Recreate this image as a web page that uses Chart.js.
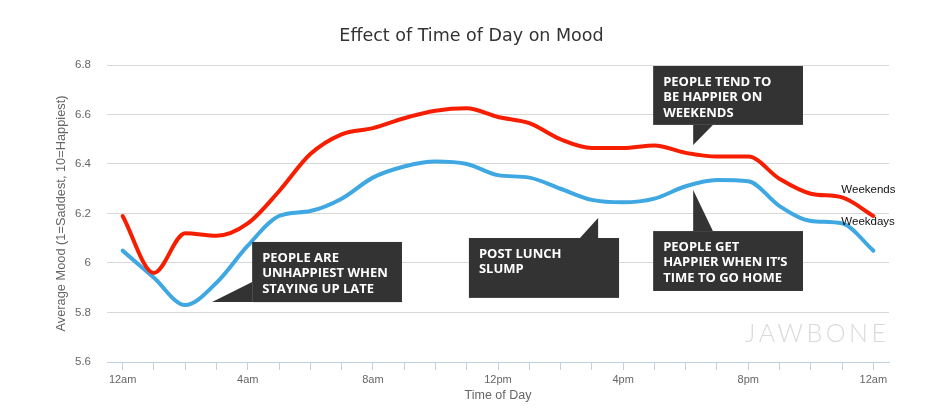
<!DOCTYPE html>
<html>
<head>
<meta charset="utf-8">
<script src="https://cdn.jsdelivr.net/npm/chart.js@4"></script>
<style>
  body { margin: 0; background: #fff; }
  #wrap { width: 943px; height: 417px; }
</style>
</head>
<body>
<div id="wrap"><canvas id="chart"></canvas></div>
<script>
const hours = ['12am', '1am', '2am', '3am', '4am', '5am', '6am', '7am', '8am', '9am', '10am', '11am',
  '12pm', '1pm', '2pm', '3pm', '4pm', '5pm', '6pm', '7pm', '8pm', '9pm', '10pm', '11pm', '12am'];

const weekends = [6.19, 5.96, 6.12, 6.11, 6.16, 6.29, 6.44, 6.52, 6.545, 6.585, 6.615, 6.625,
  6.59, 6.565, 6.50, 6.465, 6.465, 6.475, 6.445, 6.43, 6.43, 6.34, 6.28, 6.265, 6.19];

const weekdays = [6.05, 5.94, 5.83, 5.92, 6.07, 6.19, 6.21, 6.26, 6.345, 6.39, 6.41, 6.40,
  6.355, 6.345, 6.30, 6.255, 6.245, 6.26, 6.31, 6.335, 6.33, 6.23, 6.17, 6.16, 6.05];

const yTicks = [5.6, 5.8, 6.0, 6.2, 6.4, 6.6, 6.8];

// callout boxes, in chart units (hour index, mood)
const callouts = [
  { lines: ['PEOPLE ARE', 'UNHAPPIEST WHEN', 'STAYING UP LATE'],
    box: [4.14, 6.085, 8.93, 5.842], pointer: [[4.14, 5.923], [2.86, 5.842], [4.14, 5.842]] },
  { lines: ['POST LUNCH', 'SLUMP'],
    box: [11.07, 6.101, 15.87, 5.859], pointer: [[14.62, 6.101], [15.2, 6.182], [15.2, 6.101]] },
  { lines: ['PEOPLE TEND TO', 'BE HAPPIER ON', 'WEEKENDS'],
    box: [16.96, 6.796, 21.75, 6.558], pointer: [[18.24, 6.558], [18.24, 6.477], [18.87, 6.558]] },
  { lines: ['PEOPLE GET', 'HAPPIER WHEN IT\u2019S', 'TIME TO GO HOME'],
    box: [16.96, 6.129, 21.75, 5.887], pointer: [[18.24, 6.129], [18.24, 6.295], [18.87, 6.129]] }
];

const calloutPlugin = {
  id: 'callouts',
  afterDatasetsDraw(chart) {
    const { ctx, scales: { x, y } } = chart;
    ctx.save();
    callouts.forEach(c => {
      const x0 = x.getPixelForValue(c.box[0]), y0 = y.getPixelForValue(c.box[1]);
      const x1 = x.getPixelForValue(c.box[2]), y1 = y.getPixelForValue(c.box[3]);
      ctx.fillStyle = '#333333';
      ctx.fillRect(x0, y0, x1 - x0, y1 - y0);
      ctx.beginPath();
      c.pointer.forEach((p, i) => {
        const px = x.getPixelForValue(p[0]), py = y.getPixelForValue(p[1]);
        if (i === 0) ctx.moveTo(px, py); else ctx.lineTo(px, py);
      });
      ctx.closePath();
      ctx.fill();
      ctx.fillStyle = '#ffffff';
      ctx.font = 'bold 13px "Open Sans"';
      ctx.textBaseline = 'middle';
      ctx.textAlign = 'left';
      c.lines.forEach((t, i) => ctx.fillText(t, x0 + 10, y0 + 16 + i * 15.5));
    });

    // series names next to the line ends
    ctx.fillStyle = '#111';
    ctx.font = '11.5px "Liberation Sans"';
    ctx.textBaseline = 'middle';
    [['Weekends', 0, -26], ['Weekdays', 1, -29]].forEach(([name, di, dy]) => {
      const pts = chart.getDatasetMeta(di).data;
      const last = pts[pts.length - 1];
      ctx.fillText(name, last.x - 32, last.y + dy);
    });

    // watermark
    const area = chart.chartArea;
    ctx.fillStyle = '#dadada';
    ctx.font = '300 25px Lato';
    ctx.letterSpacing = '3.5px';
    ctx.textBaseline = 'alphabetic';
    ctx.fillText('JAWBONE', area.right - 144, area.bottom - 20);
    ctx.restore();
  }
};

new Chart(document.getElementById('chart'), {
  type: 'line',
  data: {
    labels: hours,
    datasets: [
      { label: 'Weekends', data: weekends, borderColor: '#f71e00', borderWidth: 4,
        pointRadius: 0, cubicInterpolationMode: 'monotone', borderCapStyle: 'round' },
      { label: 'Weekdays', data: weekdays, borderColor: '#3fa7e1', borderWidth: 4,
        pointRadius: 0, cubicInterpolationMode: 'monotone', borderCapStyle: 'round' }
    ]
  },
  options: {
    responsive: true,
    maintainAspectRatio: false,
    animation: false,
    layout: { padding: 0 },
    plugins: {
      legend: { display: false },
      tooltip: { enabled: false },
      title: {
        display: true,
        text: 'Effect of Time of Day on Mood',
        color: '#333',
        font: { family: 'DejaVu Sans', size: 17.5, weight: 'normal' },
        padding: { top: 26, bottom: 18 }
      }
    },
    scales: {
      x: {
        offset: true,
        grid: { display: true, drawOnChartArea: false, drawTicks: true, tickLength: 8,
          color: '#c0d0e0', offset: false },
        border: { display: true, color: '#c0d0e0' },
        ticks: {
          autoSkip: false, maxRotation: 0, padding: 3, color: '#666',
          font: { family: 'Liberation Sans', size: 11 },
          callback: (v, i) => (i % 4 === 0 ? hours[i] : '')
        },
        title: { display: true, text: 'Time of Day', color: '#666',
          font: { family: 'Liberation Sans', size: 12.5 }, padding: { top: 0, bottom: 14 } },
        afterFit: s => { s.height = 55; }
      },
      y: {
        min: yTicks[0],
        max: yTicks[yTicks.length - 1],
        afterBuildTicks: s => { s.ticks = yTicks.map(v => ({ value: v })); },
        grid: { color: '#d8d8d8', drawTicks: false },
        border: { display: false },
        ticks: { padding: 16, color: '#666', font: { family: 'Liberation Sans', size: 11.5 },
          callback: v => String(Number(v.toFixed(1))) },
        title: { display: true, text: 'Average Mood (1=Saddest, 10=Happiest)', color: '#666',
          font: { family: 'Liberation Sans', size: 12.8 }, padding: { top: 54, bottom: 0 } },
        afterFit: s => { s.width = 107; }
      },
      // empty right margin so the title centres on the whole canvas
      yRight: {
        position: 'right',
        display: true,
        grid: { display: false },
        border: { display: false },
        ticks: { display: false },
        afterFit: s => { s.width = 54; }
      }
    }
  },
  plugins: [calloutPlugin]
});
</script>
</body>
</html>
